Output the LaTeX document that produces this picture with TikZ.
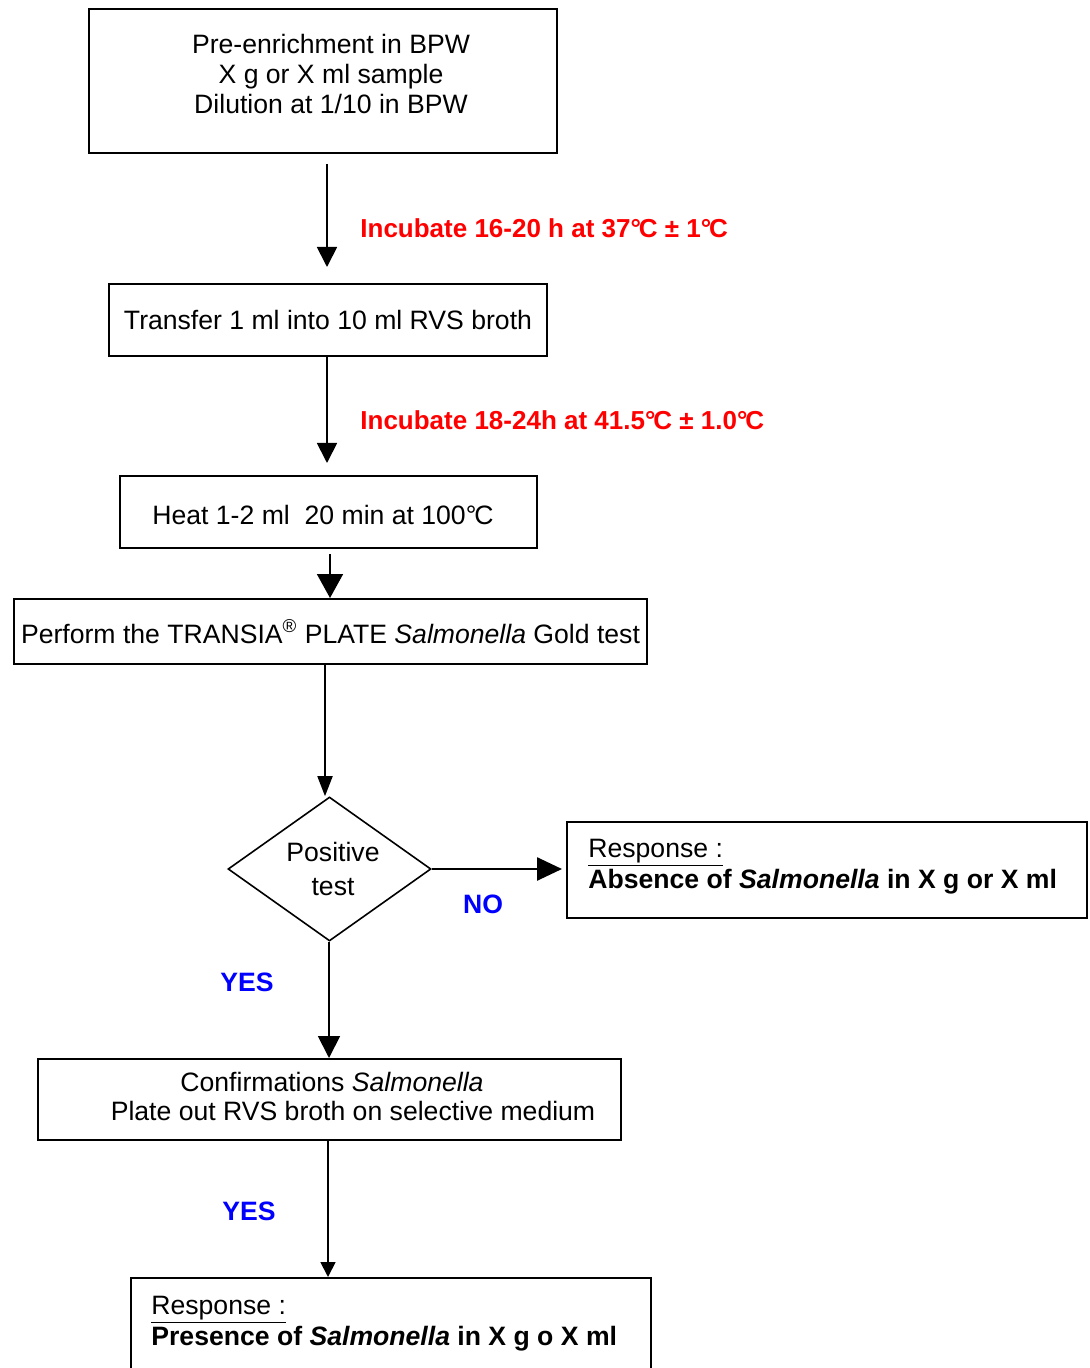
\documentclass[tikz,border=0pt]{standalone}
\usepackage{fontspec}
\setmainfont{Liberation Sans}
\usetikzlibrary{shapes.geometric,arrows.meta}

\newcommand{\degc}{°\kern-0.08em C}
\newcommand{\flowfont}{\fontsize{13.3}{14.8}\selectfont}

\tikzset{
  box/.style={draw, line width=1pt, inner sep=0pt, font=\flowfont},
  txt/.style={inner sep=0pt, font=\flowfont},
  warm/.style={inner sep=0pt, font=\fontsize{13}{14.8}\selectfont\bfseries, text=red},
  ans/.style={inner sep=0pt, font=\flowfont\bfseries, text=blue},
  arr/.style={line width=0.9pt, -{Triangle[#1]}},
  arr/.default={length=10pt,width=10pt}
}

\begin{document}
\begin{tikzpicture}[x=0.5pt,y=-0.5pt]
    \useasboundingbox (0,0) rectangle (1090,1368);
    % Boxes
    \node[box, minimum width=234pt, minimum height=72pt] (pre) at (323,81) {};
    \node[txt, align=center] (pretxt) at (331,74) {Pre-enrichment in BPW\\X g or X ml sample\\Dilution at 1/10 in BPW};
    \node[box, minimum width=219pt, minimum height=36pt] (trans) at (328,320) {Transfer 1 ml into 10 ml RVS broth};
    \node[box, minimum width=208.5pt, minimum height=36pt] (heat) at (328.5,512) {};
    \node[txt, anchor=west] (heattxt) at (152,515) {Heat 1-2 ml\ \ 20 min at 100\degc};
    \node[box, minimum width=316.5pt, minimum height=32.5pt] (perf) at (330.5,631.5)
        {Perform the TRANSIA\textsuperscript{®} PLATE \textit{Salmonella} Gold test};
    \node[box, diamond, aspect=1.4, line width=0.8pt, minimum width=101.5pt, minimum height=72pt] (test) at (329.5,869) {};
    \node[txt, align=center] (testtxt) at (333,869) {Positive\\[2.2pt]test};
    \node[box, minimum width=260pt, minimum height=48pt] (absent) at (827,870) {};
    \node[txt, anchor=base west] (abs1) at (588,857) {\underline{Response :}};
    \node[txt, anchor=base west] (abs2) at (588,888) {\textbf{Absence of \textit{Salmonella} in X g or X ml}};
    \node[box, minimum width=291.5pt, minimum height=40.5pt] (conf) at (329.5,1099.5) {};
    \node[txt] (conf1) at (332,1082) {Confirmations \textit{Salmonella}};
    \node[txt] (conf2) at (353,1111) {Plate out RVS broth on selective medium};
    \node[box, minimum width=260pt, minimum height=61pt] (present) at (391,1339) {};
    \node[txt, anchor=base west] (pres1) at (151,1314) {\underline{Response :}};
    \node[txt, anchor=base west] (pres2) at (151,1345) {\textbf{Presence of \textit{Salmonella} in X g o X ml}};

    % Labels
    \node[warm, anchor=west] (inc1) at (360,228) {Incubate 16-20 h at 37\degc{} ± 1\degc};
    \node[warm, anchor=west] (inc2) at (360,420) {Incubate 18-24h at 41.5\degc{} ± 1.0\degc};
    \node[ans] (no) at (483,904) {NO};
    \node[ans] (yes1) at (247,982) {YES};
    \node[ans] (yes2) at (249,1211) {YES};

    % Arrows
    \draw[arr] ([xshift=2pt,yshift=-5pt]pre.south) -- ([xshift=-0.5pt,yshift=8pt]trans.north);
    \draw[arr] ([xshift=-0.5pt]trans.south) -- ([xshift=-0.75pt,yshift=6pt]heat.north);
    \draw[arr={length=12pt,width=13pt}] ([xshift=0.75pt,yshift=-2.5pt]heat.south) -- ([xshift=-0.25pt]perf.north);
    \draw[arr={length=10pt,width=7.5pt}] ([xshift=-2.75pt]perf.south) -- ([xshift=-2.25pt]test.north);
    \draw[arr={length=12.5pt,width=11.5pt}, line width=1.3pt, shorten >=2pt] (test.east) -- (test.east -| absent.west);
    \draw[arr={length=11pt,width=11pt}] ([xshift=-0.25pt]test.south) -- ([xshift=-0.25pt]conf.north);
    \draw[arr={length=7.5pt,width=7.5pt}] ([xshift=-0.75pt]conf.south) -- ([xshift=-31.5pt]present.north);
\end{tikzpicture}
\end{document}
